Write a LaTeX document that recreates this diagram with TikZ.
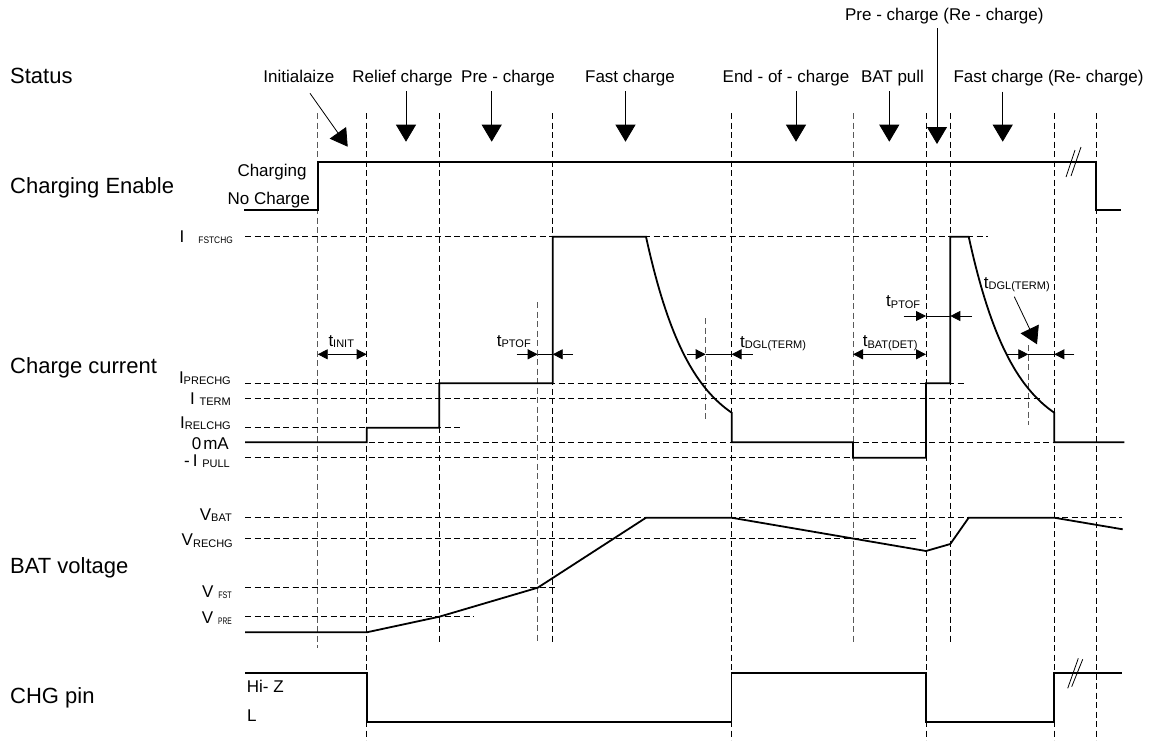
\documentclass[tikz,border=0pt]{standalone}
\usepackage{fontspec}
\setmainfont{Liberation Sans}
\usetikzlibrary{arrows.meta}
\newcommand{\lsub}[1]{\raisebox{-1.5pt}{\fontsize{11}{11}\selectfont #1}}
\newcommand{\lsubs}[2]{\raisebox{-1.5pt}{\scalebox{#1}[1]{\fontsize{9.5}{9.5}\selectfont #2}}}
\def\XA{317.7}\def\XB{366.7}\def\XC{439.3}\def\XD{537.7}\def\XE{552.7}
\def\XF{705.7}\def\XG{731.5}\def\XH{853}\def\XI{926}\def\XJ{950.3}
\def\XK{1028.3}\def\XL{1054.3}\def\XM{1096.3}
\def\YEH{161.7}\def\YEL{210}
\def\YF{236.7}\def\YP{383.3}\def\YT{398.3}\def\YR{427.7}\def\YZ{442.3}\def\YN{457.7}
\def\YVB{517.7}\def\YVR{538.3}\def\YVF{587.7}\def\YVP{616.7}\def\YVZ{632.3}
\def\YH{673.3}\def\YL{721.7}\def\YA{354.3}
\begin{document}
\begin{tikzpicture}[x=1pt,y=-1pt,
  sig/.style={line width=1.8pt},
  grid/.style={line width=0.8pt, dash pattern=on 6pt off 3.5pt},
  gridg/.style={grid, draw=black!65},
  thinl/.style={line width=0.8pt},
  tarr/.style={thinl, -{Triangle[length=10pt,width=10pt]}},
  tarrs/.style={thinl, {Triangle[length=10pt,width=10pt]}-{Triangle[length=10pt,width=10pt]}},
  sarr/.style={thinl, -{Triangle[length=17pt,width=20pt]}},
  stat/.style={font=\fontsize{17}{20}\selectfont, inner sep=0pt, anchor=base},
  rowlab/.style={font=\fontsize{22}{26}\selectfont, inner sep=0pt, anchor=base west},
  val/.style={font=\fontsize{17}{20}\selectfont, inner sep=0pt, anchor=base east},
  tlab/.style={font=\fontsize{17}{20}\selectfont, inner sep=0pt, anchor=base west}]
\useasboundingbox (0,0) rectangle (1156,740);

% row labels
\node[rowlab] (lStatus) at (10,83.3) {Status};
\node[rowlab] (lEnable) at (10,193.3) {Charging Enable};
\node[rowlab] (lCurrent) at (10,373.3) {Charge current};
\node[rowlab] (lVolt) at (10,573.3) {BAT voltage};
\node[rowlab] (lPin) at (10,703.3) {CHG pin};

% value labels
\node[val] (vChg) at (306.7,176) {Charging};
\node[val] (vNoChg) at (310,204) {No Charge};
\node[val] (vIF) at (233,242.3) {I\hspace{14pt}\lsubs{0.88}{FSTCHG}};
\node[val] (vIP) at (231,383.3) {I\lsub{PRECHG}};
\node[val] (vIT) at (231,404) {I \lsub{TERM}};
\node[val] (vIR) at (231,428.3) {I\lsub{RELCHG}};
\node[val] (vIZ) at (229,449) {0\hspace{2pt}mA};
\node[val] (vIN) at (230,466) {-\hspace{3pt}I \lsub{PULL}};
\node[val] (vVB) at (232,520) {V\lsub{BAT}};
\node[val] (vVR) at (233,545.7) {V\lsub{RECHG}};
\node[val] (vVF) at (232,597.3) {V\hspace{5pt}\lsubs{0.75}{FST}};
\node[val] (vVP) at (232,623.3) {V\hspace{5pt}\lsubs{0.7}{PRE}};
\node[tlab] (vHZ) at (246.7,692.3) {Hi- Z};
\node[tlab] (vL) at (247,721) {L};

% vertical dashed lines
\draw[gridg] (\XA,113) -- (\XA,648);
\draw[grid] (\XB,113) -- (\XB,740);
\draw[grid] (\XC,113) -- (\XC,643);
\draw[gridg] (\XD,302) -- (\XD,643);
\draw[grid] (\XE,113) -- (\XE,643);
\draw[gridg] (\XF,318) -- (\XF,422);
\draw[grid] (\XG,113) -- (\XG,740);
\draw[gridg] (\XH,113) -- (\XH,643);
\draw[grid] (\XI,113) -- (\XI,740);
\draw[grid] (\XJ,113) -- (\XJ,643);
\draw[gridg] (\XK,345) -- (\XK,425);
\draw[grid] (\XL,113) -- (\XL,740);
\draw[grid] (\XM,113) -- (\XM,740);

% horizontal dashed lines
\draw[grid] (245,\YF) -- (988,\YF);
\draw[grid] (245,\YP) -- (964,\YP);
\draw[grid] (245,\YT) -- (1042,\YT);
\draw[grid] (245,\YR) -- (460,\YR);
\draw[grid] (245,\YZ) -- (1124,\YZ);
\draw[grid] (245,\YN) -- (\XH,\YN);
\draw[grid] (245,\YVB) -- (1122,\YVB);
\draw[grid] (245,\YVR) -- (917,\YVR);
\draw[grid] (245,\YVF) -- (556.7,\YVF);
\draw[grid] (245,\YVP) -- (473.3,\YVP);

% status labels and arrows
\node[stat] (sInit) at (298.8,82.3) {Initialaize};
\node[stat] (sRel) at (402.5,82.3) {Relief charge};
\node[stat] (sPre) at (508,82.3) {Pre - charge};
\node[stat] (sFast) at (630,82.3) {Fast charge};
\node[stat] (sEnd) at (786,82.3) {End - of - charge};
\node[stat] (sPull) at (892.5,82.3) {BAT pull};
\node[stat] (sPreR) at (944.3,20.7) {Pre - charge (Re - charge)};
\node[stat] (sFastR) at (1048.5,82.3) {Fast charge (Re- charge)};
\coordinate (tInit) at (347.7,146.7);
\coordinate (tRel) at (406,141.7);
\coordinate (tPre) at (491.7,141.7);
\coordinate (tFast) at (625.5,141.7);
\coordinate (tEnd) at (796,141.7);
\coordinate (tPull) at (889.3,141.7);
\coordinate (tPreR) at (937,144);
\coordinate (tFastR) at (1002.7,141.7);
\draw[sarr] (310,93.3) -- (tInit);
\draw[sarr] (406,91) -- (tRel);
\draw[sarr] (491.7,91) -- (tPre);
\draw[sarr] (625.5,91) -- (tFast);
\draw[sarr] (796,91) -- (tEnd);
\draw[sarr] (889.3,91) -- (tPull);
\draw[sarr] (937,28) -- (tPreR);
\draw[sarr] (1002.7,91.7) -- (tFastR);

% charging enable
\draw[sig] (244.3,\YEL) -- (\XA,\YEL) -- (\XA,\YEH) -- (\XM,\YEH) -- (\XM,\YEL) -- (1121,\YEL);
\draw[thinl] (1066,177) -- (1075,150);
\draw[thinl] (1071,176) -- (1081,147);

% charge current
\draw[sig] (245,\YZ) -- (\XB,\YZ) -- (\XB,\YR) -- (\XC,\YR) -- (\XC,\YP) -- (\XE,\YP) -- (\XE,\YF) -- (646,\YF)
  -- plot[domain=0:85.7,samples=50] ({646+\x},{236.7+176*(1-exp(-\x/45))/(1-exp(-85.7/45))})
  -- (731.7,\YZ) -- (\XH,\YZ) -- (\XH,\YN) -- (\XI,\YN) -- (\XI,\YP) -- (\XJ,\YP) -- (\XJ,\YF) -- (968.7,\YF)
  -- plot[domain=0:85.6,samples=50] ({968.7+\x},{236.7+176*(1-exp(-\x/45))/(1-exp(-85.6/45))})
  -- (\XL,\YZ) -- (1124.3,\YZ);

% timing arrows
\node[tlab] (tINIT) at (328.3,346) {t\lsub{INIT}};
\draw[tarrs] (\XA,\YA) -- (\XB,\YA);
\node[tlab] (tPTOFa) at (496.7,346) {t\lsub{PTOF}};
\draw[thinl] (\XD,\YA) -- (\XE,\YA);
\draw[tarr] (516.7,\YA) -- (\XD,\YA);
\draw[tarr] (573,\YA) -- (\XE,\YA);
\node[tlab] (tDGLa) at (740,347.3) {t\lsub{DGL(TERM)}};
\draw[thinl] (\XF,\YA) -- (\XG,\YA);
\draw[tarr] (687,\YA) -- (\XF,\YA);
\draw[tarr] (752.5,\YA) -- (\XG,\YA);
\node[tlab] (tBAT) at (862.7,346.7) {t\lsub{BAT(DET)}};
\draw[tarrs] (\XH,\YA) -- (\XI,\YA);
\node[tlab] (tPTOFb) at (886,306.7) {t\lsub{PTOF}};
\draw[thinl] (\XI,316) -- (\XJ,316);
\draw[tarr] (903.7,316) -- (\XI,316);
\draw[tarr] (972,316) -- (\XJ,316);
\node[tlab] (tDGLb) at (983.7,288.3) {t\lsub{DGL(TERM)}};
\draw[thinl] (\XK,\YA) -- (\XL,\YA);
\draw[tarr] (1006.7,\YA) -- (\XK,\YA);
\draw[tarr] (1074.3,\YA) -- (\XL,\YA);
\coordinate (tDGLtip) at (1037,344.3);
\draw[sarr] (1014.3,296.7) -- (tDGLtip);

% BAT voltage
\draw[sig] (245,\YVZ) -- (\XB,\YVZ) -- (\XC,\YVP) -- (\XD,\YVF) -- (646,\YVB) -- (\XG,\YVB)
  -- (\XI,551) -- (\XJ,544) -- (968.7,\YVB) -- (\XL,\YVB) -- (1122.7,529.3);

% CHG pin
\draw[sig] (245,\YH) -- (\XB,\YH) -- (\XB,\YL) -- (\XG,\YL) -- (\XG,\YH) -- (\XI,\YH) -- (\XI,\YL)
  -- (\XL,\YL) -- (\XL,\YH) -- (1121.7,\YH);
\draw[thinl] (1067.7,688.3) -- (1078.3,658.3);
\draw[thinl] (1071.7,686.7) -- (1082.7,659.3);
\end{tikzpicture}
\end{document}
